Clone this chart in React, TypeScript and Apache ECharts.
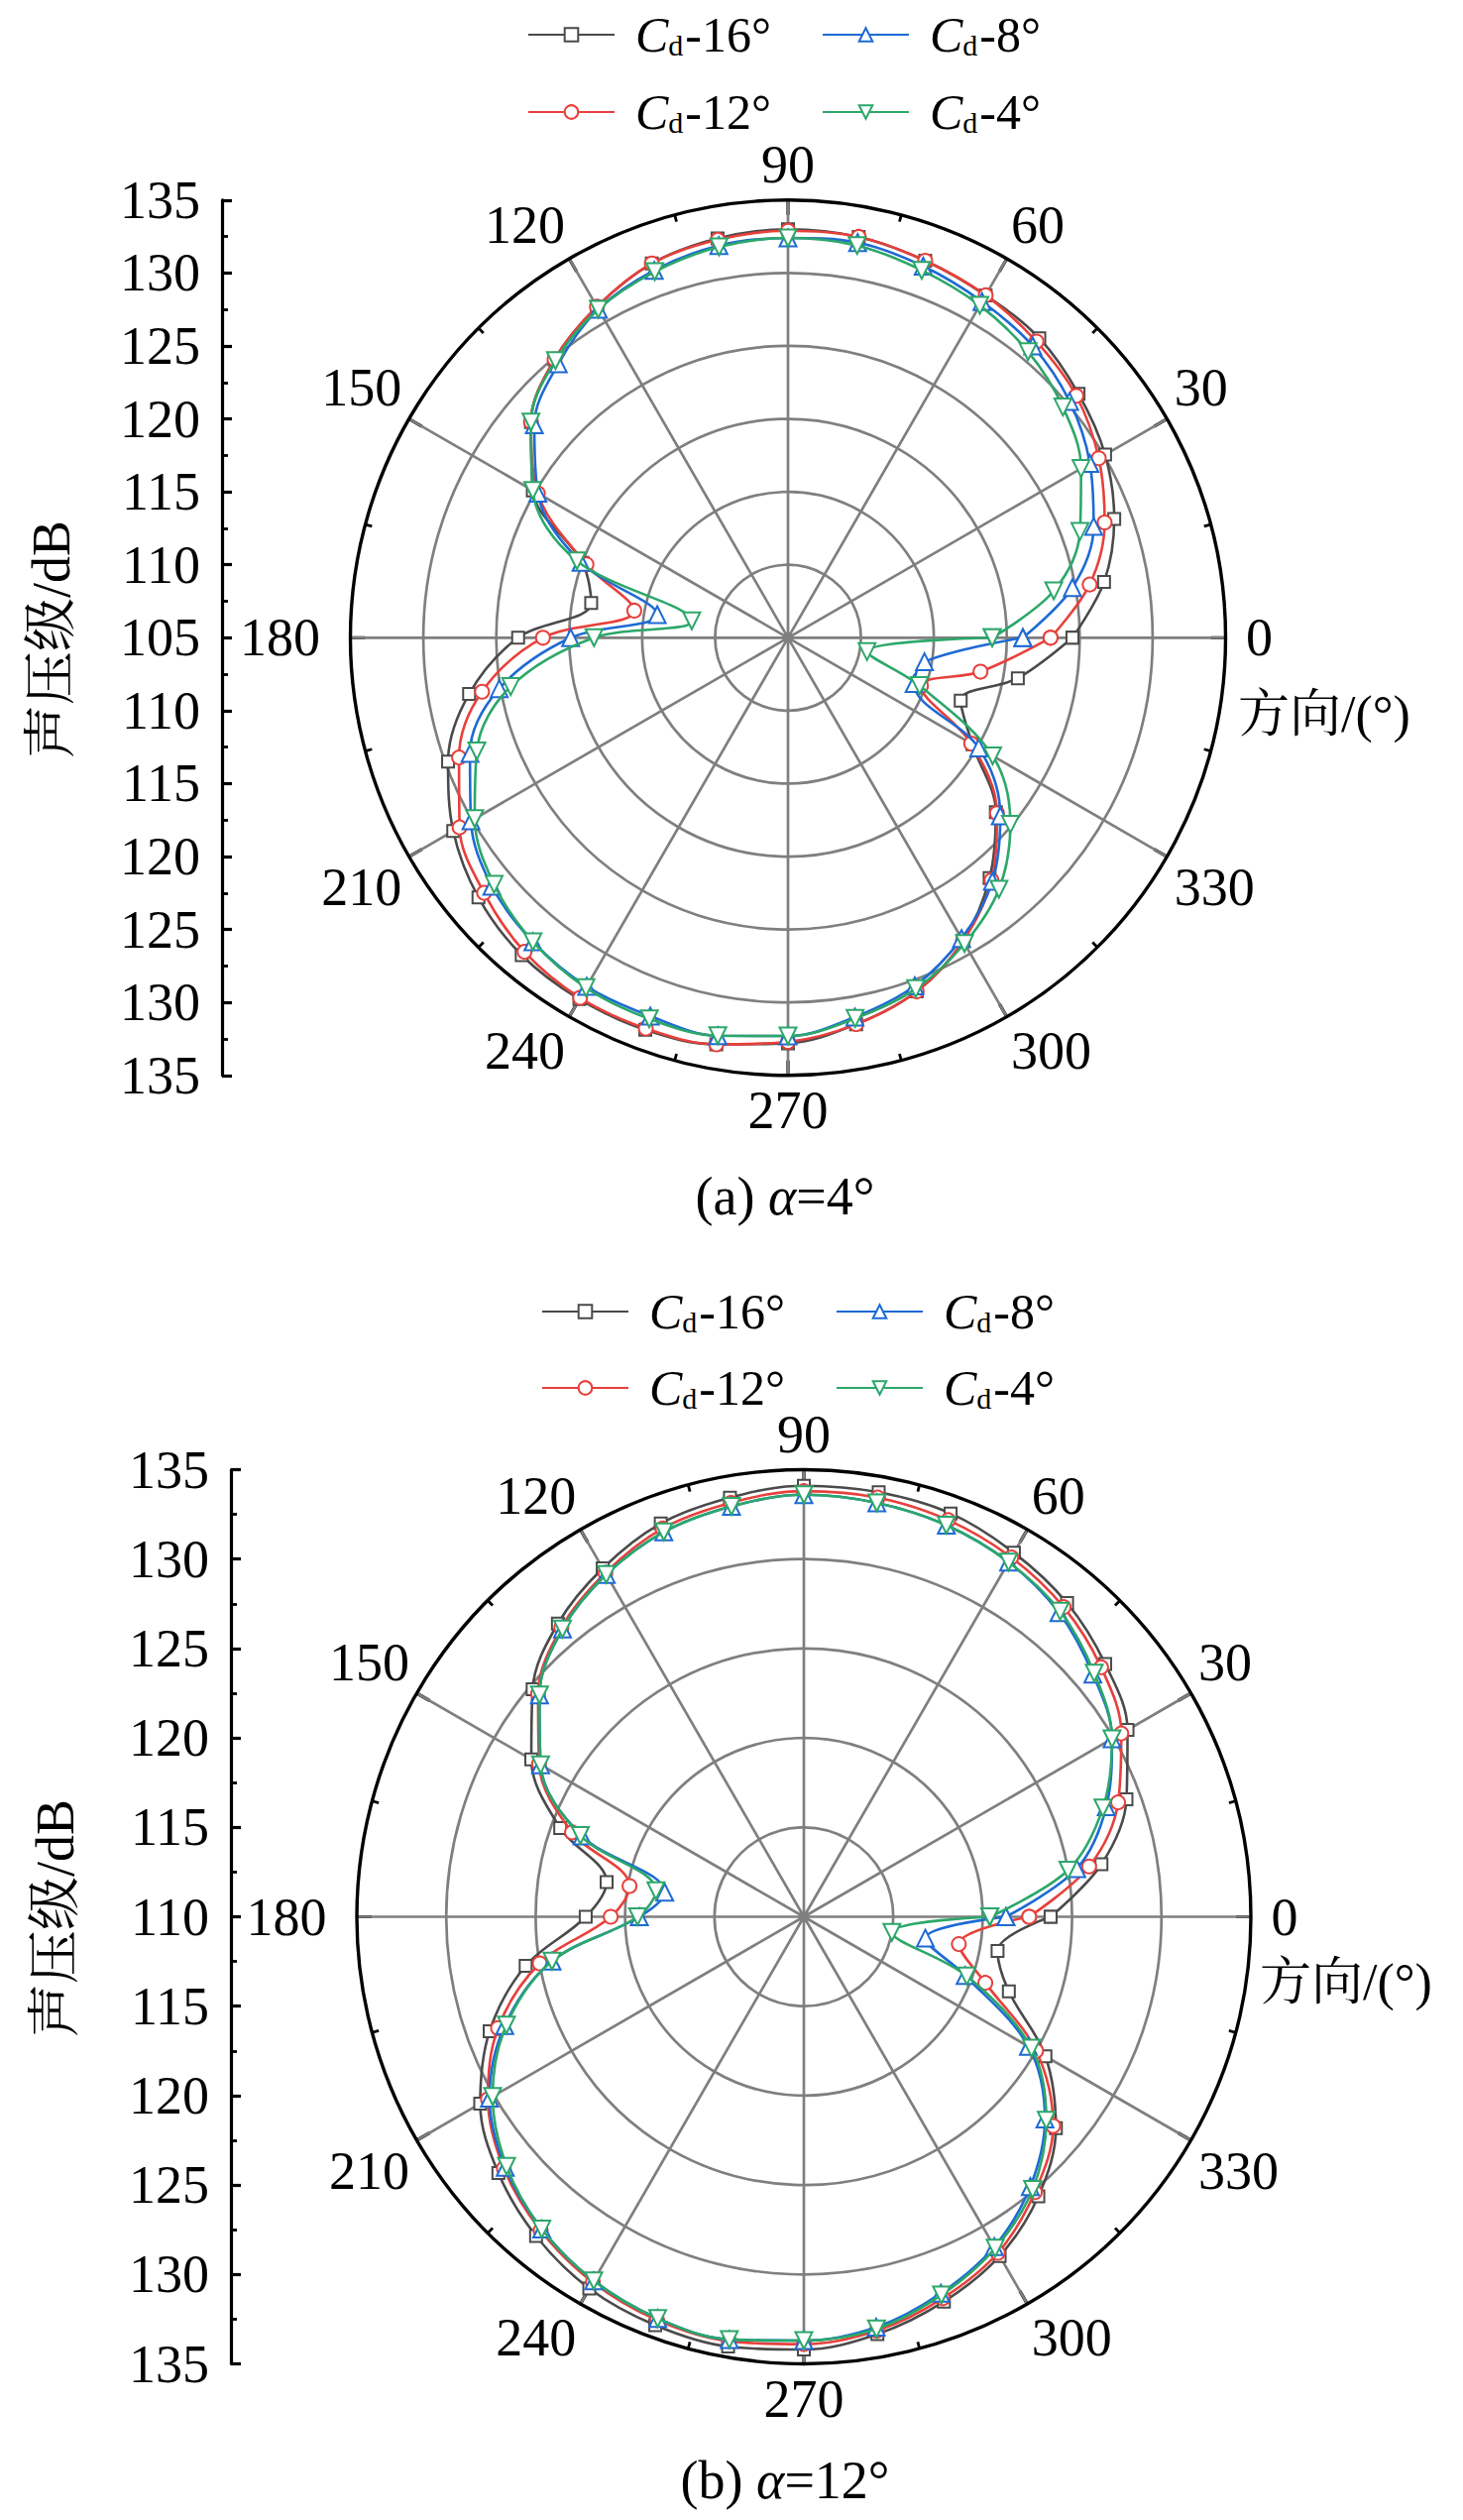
import React, { useEffect, useRef } from 'react';
import * as echarts from 'echarts';

const W = 1476;
const H = 2542;
const SERIF = '"Liberation Serif", "Times New Roman", serif';
const MIXED = '"Liberation Serif", "Noto Serif CJK SC", "Noto Sans CJK SC", serif';

// ---------------- data ----------------
const ANGLES = [0, 10, 20, 30, 40, 50, 60, 70, 80, 90, 100, 110, 120, 130, 140, 150, 160, 170,
  180, 190, 200, 210, 220, 230, 240, 250, 260, 270, 280, 290, 300, 310, 320, 330, 340, 350];

const SERIES_NAMES = ['Cd-16°', 'Cd-12°', 'Cd-8°', 'Cd-4°'];

// (a) alpha = 4°
const A_CD16 = [124.5, 127.0, 128.8, 130.1, 131.0, 131.8, 132.1, 132.5, 132.9, 133.0, 132.8, 132.3, 131.2, 129.9, 128.0, 125.2, 120.0, 118.7,
  123.5, 127.2, 129.8, 131.5, 132.7, 133.4, 133.6, 133.6, 133.3, 132.8, 131.9, 130.8, 129.0, 126.5, 123.6, 119.6, 117.6, 121.0];
const A_CD12 = [123.0, 126.0, 128.1, 129.6, 130.8, 131.5, 132.1, 132.5, 132.9, 132.9, 132.7, 132.3, 131.2, 129.9, 128.0, 124.8, 119.7, 115.7,
  121.8, 126.3, 129.0, 131.0, 132.2, 133.1, 133.5, 133.5, 133.3, 132.7, 131.9, 130.8, 129.0, 126.7, 123.7, 119.5, 114.7, 118.4];
const A_CD8 = [121.1, 124.8, 127.3, 128.9, 130.2, 131.1, 131.6, 132.1, 132.5, 132.4, 132.3, 131.8, 131.0, 129.5, 127.7, 124.8, 120.1, 114.1,
  119.9, 125.1, 128.2, 130.1, 131.5, 132.2, 132.6, 132.6, 132.7, 132.3, 131.4, 130.4, 128.8, 126.8, 124.0, 120.1, 114.2, 114.5];
const A_CD4 = [119.0, 123.5, 126.3, 128.2, 129.6, 130.6, 131.3, 131.8, 132.3, 132.4, 132.2, 131.7, 131.0, 129.8, 128.0, 125.2, 120.4, 111.7,
  118.3, 124.3, 127.7, 129.8, 131.3, 132.2, 132.7, 132.8, 132.7, 132.3, 131.5, 130.6, 129.2, 127.5, 124.9, 121.2, 114.6, 110.5];

// (b) alpha = 12°
const B_CD16 = [123.8, 126.9, 129.2, 130.9, 132.0, 132.9, 133.5, 134.0, 134.1, 134.1, 133.8, 133.4, 132.5, 131.4, 129.8, 127.6, 124.5, 121.2,
  122.2, 125.8, 128.7, 130.9, 132.3, 133.3, 134.0, 134.3, 134.4, 134.2, 133.7, 132.9, 131.9, 130.4, 128.4, 125.6, 122.2, 121.0];
const B_CD12 = [122.6, 126.2, 128.7, 130.5, 131.7, 132.6, 133.2, 133.6, 133.8, 133.8, 133.5, 133.1, 132.2, 131.1, 129.4, 127.1, 123.8, 119.9,
  120.8, 125.0, 128.2, 130.4, 131.9, 132.9, 133.6, 134.0, 134.1, 133.9, 133.5, 132.7, 131.7, 130.1, 128.2, 125.0, 120.8, 118.8];
const B_CD8 = [121.3, 125.5, 128.0, 129.9, 131.1, 132.2, 132.9, 133.3, 133.5, 133.6, 133.3, 132.9, 132.1, 131.0, 129.3, 127.0, 123.2, 117.9,
  119.2, 124.3, 127.8, 130.3, 131.8, 132.8, 133.5, 133.9, 134.0, 133.7, 133.3, 132.4, 131.3, 129.7, 127.6, 124.5, 119.6, 116.9];
const B_CD4 = [120.4, 125.0, 127.8, 129.9, 131.2, 132.3, 132.9, 133.3, 133.5, 133.6, 133.3, 132.9, 132.1, 131.0, 129.3, 127.0, 123.3, 118.4,
  119.3, 124.3, 127.7, 130.1, 131.7, 132.8, 133.5, 133.9, 134.0, 133.7, 133.4, 132.5, 131.4, 129.9, 127.7, 124.7, 119.7, 115.0];

// axis ranges / tick labels
const ANGLE_RANGE = [0, 360];
const ANGLE_STEP = 30;
const RADIUS_RANGE_A = [105, 135];
const RADIUS_RANGE_B = [110, 135];
const RADIUS_STEP = 5;
const LEFT_LABELS_A = [135, 130, 125, 120, 115, 110, 105, 110, 115, 120, 125, 130, 135];
const LEFT_LABELS_B = [135, 130, 125, 120, 115, 110, 115, 120, 125, 130, 135];
const CAPTION_TAGS = ['(a)', '(b)'];
const CAPTION_ALPHA = ['4°', '12°'];

// ---------------- styles / layout ----------------
const STYLES = [
  { color: '#4a4a4a', symbol: 'emptyRect', size: 12, rotate: 0 },
  { color: '#e8403b', symbol: 'emptyCircle', size: 14, rotate: 0 },
  { color: '#1e6ad4', symbol: 'emptyTriangle', size: 17, rotate: 0 },
  { color: '#2ca76a', symbol: 'emptyTriangle', size: 17, rotate: 180 },
];

const GRID_GRAY = '#7f7f7f';

const PANELS = [
  {
    center: [795, 643.3], r: 441.5, range: RADIUS_RANGE_A, left: LEFT_LABELS_A, axisX: 224,
    data: [A_CD16, A_CD12, A_CD8, A_CD4],
    legendX: [532, 829], legendY: [27, 105],
    caption: [792, 1207], yTitle: [52, 645], dirLabel: [1336, 720],
  },
  {
    center: [811, 1933.5], r: 451, range: RADIUS_RANGE_B, left: LEFT_LABELS_B, axisX: 233,
    data: [B_CD16, B_CD12, B_CD8, B_CD4],
    legendX: [546, 843], legendY: [1315, 1392],
    caption: [792, 2502], yTitle: [56, 1935], dirLabel: [1358, 1999],
  },
];

const LEGEND_LAYOUT = [
  [0, 0], // Cd-16 row0 col0
  [1, 0], // Cd-12 row1 col0
  [0, 1], // Cd-8  row0 col1
  [1, 1], // Cd-4  row1 col1
];

const LEGEND_TEXT_H = 66;

function buildOption() {
  const polar: any[] = [];
  const angleAxis: any[] = [];
  const radiusAxis: any[] = [];
  const grid: any[] = [];
  const xAxis: any[] = [];
  const yAxis: any[] = [];
  const series: any[] = [];
  const legend: any[] = [];
  const graphic: any[] = [];

  PANELS.forEach((p, pi) => {
    polar.push({ center: p.center, radius: p.r });
    angleAxis.push({
      polarIndex: pi,
      type: 'value',
      min: ANGLE_RANGE[0],
      max: ANGLE_RANGE[1],
      interval: ANGLE_STEP,
      startAngle: 0,
      clockwise: false,
      z: 5,
      axisLine: { show: true, lineStyle: { color: '#000', width: 3.4 } },
      axisTick: { show: true, inside: true, length: 15, lineStyle: { color: '#000', width: 3.2 } },
      minorTick: { show: true, splitNumber: 2, length: 7, lineStyle: { color: '#000', width: 2.8 } },
      splitLine: { show: true, lineStyle: { color: GRID_GRAY, width: 2.7 } },
      axisLabel: {
        margin: 8.5,
        color: '#000',
        fontSize: 54,
        fontFamily: SERIF,
        formatter: (v: number) => {
          if (v >= 360) return '';
          if (v === 0) return `{r|${v}}`;
          if (v === 180) return `{l|${v}}`;
          return `${v}`;
        },
        rich: {
          r: { fontSize: 54, fontFamily: SERIF, color: '#000', padding: [0, 0, 0, 12] },
          l: { fontSize: 54, fontFamily: SERIF, color: '#000', padding: [0, 22, 0, 0] },
        },
      },
    });
    const nCircles = Math.round((p.range[1] - p.range[0]) / RADIUS_STEP) + 1;
    const circleColors = [];
    for (let i = 0; i < nCircles; i++) circleColors.push(i === nCircles - 1 ? 'rgba(0,0,0,0)' : GRID_GRAY);
    radiusAxis.push({
      polarIndex: pi,
      type: 'value',
      min: p.range[0],
      max: p.range[1],
      interval: RADIUS_STEP,
      axisLine: { show: false },
      axisTick: { show: false },
      axisLabel: { show: false },
      splitLine: { show: true, lineStyle: { color: circleColors, width: 2.7 } },
    });

    // left vertical scale
    const half = p.range[1] - p.range[0];
    grid.push({ left: p.axisX, top: p.center[1] - p.r, width: 20, height: 2 * p.r });
    xAxis.push({ gridIndex: pi, type: 'value', show: false, min: 0, max: 1 });
    yAxis.push({
      gridIndex: pi,
      type: 'value',
      position: 'left',
      min: -half,
      max: half,
      interval: RADIUS_STEP,
      axisLine: { show: true, lineStyle: { color: '#000', width: 3.2 } },
      axisTick: { show: true, inside: true, length: 10, lineStyle: { color: '#000', width: 3.2 } },
      minorTick: { show: true, splitNumber: 2, length: 6, lineStyle: { color: '#000', width: 2.8 } },
      splitLine: { show: false },
      axisLabel: {
        margin: 22,
        color: '#000',
        fontSize: 54,
        fontFamily: SERIF,
        formatter: (v: number) => String(p.left[Math.round((half - v) / RADIUS_STEP)]),
      },
    });

    // series
    p.data.forEach((vals, k) => {
      const st = STYLES[k];
      const pts = vals.map((v, i) => [v, ANGLES[i]]);
      pts.push([vals[0], ANGLE_RANGE[1]]);
      series.push({
        type: 'line',
        name: SERIES_NAMES[k],
        coordinateSystem: 'polar',
        polarIndex: pi,
        data: pts,
        smooth: 0.35,
        symbol: st.symbol,
        symbolSize: st.size,
        symbolRotate: st.rotate,
        showAllSymbol: true,
        lineStyle: { color: st.color, width: 2.6 },
        itemStyle: { color: st.color, borderWidth: 2.5 },
        z: 6 + k,
        silent: true,
      });
    });

    // legends (one per item, 2x2)
    SERIES_NAMES.forEach((name, k) => {
      const [row, col] = LEGEND_LAYOUT[k];
      legend.push({
        data: [name],
        left: p.legendX[col],
        top: p.legendY[row] - LEGEND_TEXT_H / 2,
        padding: 0,
        itemWidth: 87,
        itemHeight: 17,
        symbolRotate: 'inherit',
        selectedMode: false,
        formatter: (n: string) => `{i|C}{s|d}{n|${n.slice(2)}}`,
        textStyle: {
          color: '#000',
          fontFamily: SERIF,
          fontSize: 50,
          rich: {
            i: { fontSize: 50, lineHeight: 50, fontStyle: 'italic', fontFamily: SERIF, color: '#000', padding: [0, 0, 0, 16] },
            s: { fontSize: 30, lineHeight: 30, fontFamily: SERIF, color: '#000', verticalAlign: 'bottom', padding: [36, 2, 0, 0] },
            n: { fontSize: 50, lineHeight: 50, fontFamily: SERIF, color: '#000' },
          },
        },
      });
    });

    // texts
    graphic.push({
      type: 'text',
      x: p.caption[0],
      y: p.caption[1],
      style: {
        text: `{n|${CAPTION_TAGS[pi]} }{i|α}{n|=${CAPTION_ALPHA[pi]}}`,
        align: 'center',
        verticalAlign: 'middle',
        fill: '#000',
        fontSize: 54,
        fontFamily: SERIF,
        rich: {
          n: { fontSize: 54, fontFamily: SERIF, fill: '#000', color: '#000' },
          i: { fontSize: 54, fontFamily: SERIF, fontStyle: 'italic', fill: '#000', color: '#000' },
        },
      },
    });
    graphic.push({
      type: 'text',
      x: p.yTitle[0],
      y: p.yTitle[1],
      rotation: Math.PI / 2,
      style: {
        text: '声压级/dB',
        align: 'center',
        verticalAlign: 'middle',
        fill: '#000',
        fontSize: 54,
        fontFamily: MIXED,
      },
    });
    graphic.push({
      type: 'text',
      x: p.dirLabel[0],
      y: p.dirLabel[1],
      style: {
        text: '方向/(°)',
        align: 'center',
        verticalAlign: 'middle',
        fill: '#000',
        fontSize: 52,
        fontFamily: MIXED,
      },
    });
  });

  return {
    animation: false,
    backgroundColor: '#ffffff',
    polar,
    angleAxis,
    radiusAxis,
    grid,
    xAxis,
    yAxis,
    legend,
    series,
    graphic,
  };
}

export default function App() {
  const ref = useRef<HTMLDivElement>(null);
  useEffect(() => {
    if (!ref.current) return;
    const chart = echarts.init(ref.current, undefined, { renderer: 'svg', width: W, height: H });
    chart.setOption(buildOption() as any);
    return () => chart.dispose();
  }, []);
  return (
    <div
      ref={ref}
      style={{ position: 'absolute', left: 0, top: 0, width: W, height: H, background: '#fff' }}
    />
  );
}
